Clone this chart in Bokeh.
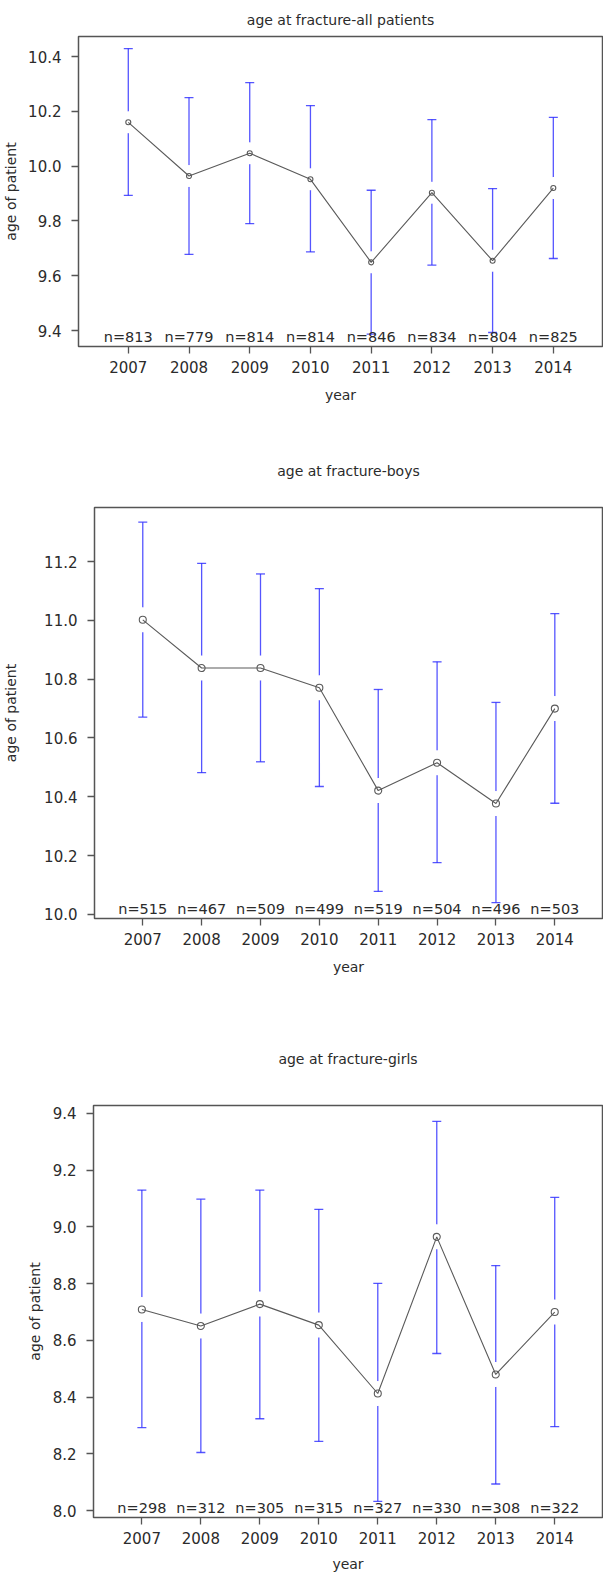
from bokeh.plotting import figure
from bokeh.layouts import column
from bokeh.models import Range1d, FixedTicker, NumeralTickFormatter
from bokeh.core.properties import value
from bokeh.embed import file_html
from bokeh.resources import INLINE

years = [2007, 2008, 2009, 2010, 2011, 2012, 2013, 2014]
year_labels = ["2007", "2008", "2009", "2010", "2011", "2012", "2013", "2014"]

all_mean = [10.16, 9.964, 10.047, 9.952, 9.649, 9.903, 9.655, 9.92]
all_upper = [10.429, 10.25, 10.305, 10.221, 9.912, 10.17, 9.918, 10.178]
all_lower = [9.893, 9.678, 9.79, 9.687, 9.387, 9.639, 9.393, 9.663]
all_n = [813, 779, 814, 814, 846, 834, 804, 825]

boys_mean = [11.002, 10.838, 10.838, 10.771, 10.421, 10.516, 10.377, 10.70]
boys_upper = [11.334, 11.194, 11.158, 11.108, 10.765, 10.859, 10.721, 11.023]
boys_lower = [10.671, 10.482, 10.519, 10.435, 10.078, 10.176, 10.04, 10.378]
boys_n = [515, 467, 509, 499, 519, 504, 496, 503]

girls_mean = [8.709, 8.651, 8.728, 8.654, 8.413, 8.965, 8.48, 8.70]
girls_upper = [9.13, 9.098, 9.13, 9.062, 8.801, 9.372, 8.864, 9.104]
girls_lower = [8.293, 8.205, 8.324, 8.244, 8.033, 8.554, 8.094, 8.296]
girls_n = [298, 312, 305, 315, 327, 330, 308, 322]

all_yticks = [9.4, 9.6, 9.8, 10.0, 10.2, 10.4]
boys_yticks = [10.0, 10.2, 10.4, 10.6, 10.8, 11.0, 11.2]
girls_yticks = [8.0, 8.2, 8.4, 8.6, 8.8, 9.0, 9.2, 9.4]

FONT = "DejaVu Sans"
TXT = "#2b2b2b"
BOX = "#555555"
XR = (2006.18, 2014.81)
W = 603


def make_panel(title, mean, lower, upper, n, yr, yticks, msize, gap,
               height, btop, bbottom, bleft, ylab_standoff, title_standoff,
               xlab_standoff):
    p = figure(width=W, height=height, output_backend="svg",
               toolbar_location=None, x_range=Range1d(*XR),
               y_range=Range1d(*yr), min_border_top=btop,
               min_border_bottom=bbottom, min_border_left=bleft,
               min_border_right=1)
    if "frame_align" in p.properties():
        p.frame_align = False
    p.title.text = title
    p.title.align = "center"
    p.title.text_font = FONT
    p.title.text_font_size = "14px"
    p.title.text_font_style = "normal"
    p.title.text_color = TXT
    p.title.standoff = title_standoff
    p.outline_line_color = BOX
    p.outline_line_width = 1.5
    p.xgrid.visible = False
    p.ygrid.visible = False
    p.background_fill_color = "white"
    p.border_fill_color = "white"

    for ax in (p.xaxis[0], p.yaxis[0]):
        ax.axis_line_color = None
        ax.major_tick_line_color = BOX
        ax.major_tick_line_width = 1.3
        ax.major_tick_out = 7
        ax.major_tick_in = 0
        ax.minor_tick_line_color = None
        ax.major_label_text_font = FONT
        ax.major_label_text_font_size = "15px"
        ax.major_label_text_color = TXT
        ax.axis_label_text_font = FONT
        ax.axis_label_text_font_size = "14px"
        ax.axis_label_text_font_style = "normal"
        ax.axis_label_text_color = TXT

    p.xaxis.ticker = FixedTicker(ticks=years)
    p.xaxis.major_label_overrides = dict(zip(years, year_labels))
    p.xaxis.axis_label = "year"
    p.xaxis.major_label_standoff = 7
    p.xaxis.axis_label_standoff = xlab_standoff
    p.yaxis.ticker = FixedTicker(ticks=yticks)
    p.yaxis.formatter = NumeralTickFormatter(format="0.0")
    p.yaxis.axis_label = "age of patient"
    p.yaxis.major_label_standoff = 10
    p.yaxis.axis_label_standoff = ylab_standoff

    bar_col = "#2a2aff"
    p.segment(x0=years, y0=lower, x1=years, y1=upper,
              line_color=bar_col, line_width=1.3, line_alpha=0.8)
    p.scatter(years, upper, marker="dash", size=9, line_color=bar_col,
              line_width=1.3, line_alpha=0.8)
    p.scatter(years, lower, marker="dash", size=9, line_color=bar_col,
              line_width=1.3, line_alpha=0.8)
    p.scatter(years, mean, marker="circle", size=gap, fill_color="white",
              line_color=None)
    p.line(years, mean, line_color="#5a5a5a", line_width=1.1)
    p.scatter(years, mean, marker="circle", size=msize, fill_color=None,
              line_color="#5a5a5a", line_width=1.1)

    p.text(x=years, y=[yr[0]] * len(years), text=["n=%d" % v for v in n],
           text_align="center", text_baseline="bottom", y_offset=-2,
           text_font=value(FONT), text_font_size="14.5px", text_color=TXT)
    return p


p1 = make_panel("age at fracture-all patients", all_mean, all_lower, all_upper,
                all_n, (9.342, 10.473), all_yticks, 5, 22,
                430, 36, 84, 75, 6, 18, 11)
p2 = make_panel("age at fracture-boys", boys_mean, boys_lower, boys_upper,
                boys_n, (9.986, 11.384), boys_yticks, 7, 25,
                570, 77, 82, 93, 22, 57, 11)
p3 = make_panel("age at fracture-girls", girls_mean, girls_lower, girls_upper,
                girls_n, (7.976, 9.428), girls_yticks, 7, 25,
                575, 105, 58, 93, 7, 77, 9)

layout = column(p1, p2, p3, spacing=0)
open("out.html", "w").write(file_html(layout, INLINE))
